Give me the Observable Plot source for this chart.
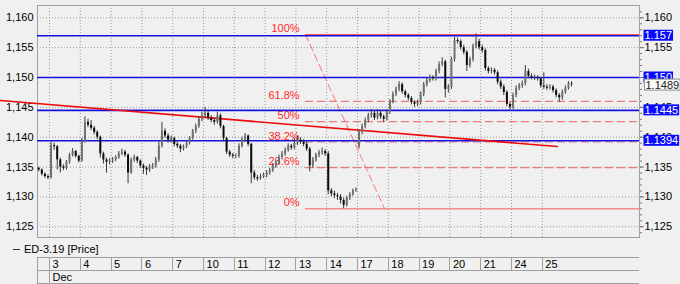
<!DOCTYPE html>
<html><head><meta charset="utf-8">
<script src="https://cdn.jsdelivr.net/npm/d3@7"></script>
<script src="https://cdn.jsdelivr.net/npm/@observablehq/plot@0.6"></script>
<style>
html,body{margin:0;padding:0;background:#f0f0f0;}
</style>
</head><body><div id="chart"></div>
<script>
// ---- data ----
const days = ["3","4","5","6","7","10","11","12","13","14","17","18","19","20","21","24","25"];
const month = "Dec";
const seriesName = "ED-3.19 [Price]";
const yTicks = [1.125, 1.130, 1.135, 1.140, 1.145, 1.150, 1.155, 1.160];

const opens = [
1.1348,1.1345,1.1338,1.1334,
1.1332,1.1386,1.1384,1.1362,1.1350,1.1348,1.1358,1.1370,1.1376,1.1368,
1.1360,1.1392,1.1425,1.1420,1.1415,1.1408,1.1400,1.1372,1.1362,1.1358,
1.1360,1.1362,1.1366,1.1372,1.1375,1.1370,1.1340,1.1362,1.1366,1.1360,
1.1352,1.1348,1.1345,1.1350,1.1352,1.1362,1.1385,1.1410,1.1402,1.1395,
1.1398,1.1388,1.1385,1.1380,1.1384,1.1390,1.1398,1.1410,1.1418,1.1430,
1.1436,1.1440,1.1432,1.1428,1.1425,1.1436,1.1418,1.1398,1.1375,1.1370,
1.1368,1.1368,1.1385,1.1396,1.1402,1.1388,1.1340,1.1332,1.1330,1.1334,
1.1336,1.1340,1.1344,1.1352,1.1358,1.1366,1.1372,1.1378,1.1385,1.1382,
1.1390,1.1395,1.1392,1.1388,1.1380,1.1352,1.1362,1.1370,1.1374,1.1376,
1.1372,1.1310,1.1305,1.1302,1.1300,1.1294,1.1286,1.1298,1.1304,1.1310,
1.1384,1.1408,1.1418,1.1428,1.1436,1.1440,1.1432,1.1440,1.1434,1.1430,
1.1442,1.1460,1.1472,1.1480,1.1488,1.1476,1.1470,1.1465,1.1458,1.1455,
1.1458,1.1472,1.1488,1.1495,1.1500,1.1498,1.1510,1.1522,1.1526,1.1480,
1.1484,1.1530,1.1562,1.1560,1.1550,1.1542,1.1520,1.1530,1.1552,1.1560,
1.1550,1.1545,1.1515,1.1510,1.1512,1.1508,1.1492,1.1484,1.1475,1.1455,
1.1450,1.1470,1.1482,1.1486,1.1490,1.1510,1.1502,1.1500,1.1500,1.1498,
1.1486,1.1484,1.1482,1.1484,1.1478,1.1470,1.1466,1.1475,1.1482,1.1490];
const highs = [
1.1350,1.1347,1.1340,1.1337,
1.1392,1.1390,1.1386,1.1365,1.1354,1.1361,1.1373,1.1381,1.1378,1.1370,
1.1398,1.1434,1.1430,1.1428,1.1418,1.1411,1.1402,1.1375,1.1365,1.1364,
1.1366,1.1369,1.1376,1.1380,1.1378,1.1372,1.1365,1.1370,1.1368,1.1362,
1.1355,1.1351,1.1354,1.1356,1.1366,1.1392,1.1425,1.1414,1.1406,1.1402,
1.1400,1.1392,1.1388,1.1387,1.1393,1.1401,1.1413,1.1422,1.1434,1.1442,
1.1450,1.1444,1.1436,1.1432,1.1442,1.1439,1.1420,1.1400,1.1378,1.1373,
1.1372,1.1389,1.1400,1.1406,1.1404,1.1390,1.1344,1.1336,1.1338,1.1340,
1.1344,1.1348,1.1356,1.1362,1.1370,1.1376,1.1382,1.1389,1.1388,1.1398,
1.1402,1.1399,1.1396,1.1392,1.1383,1.1366,1.1373,1.1378,1.1382,1.1379,
1.1376,1.1314,1.1310,1.1306,1.1304,1.1298,1.1301,1.1307,1.1313,1.1315,
1.1412,1.1422,1.1432,1.1440,1.1446,1.1443,1.1446,1.1443,1.1437,1.1446,
1.1463,1.1476,1.1484,1.1493,1.1491,1.1479,1.1473,1.1468,1.1461,1.1462,
1.1476,1.1492,1.1499,1.1504,1.1503,1.1514,1.1526,1.1533,1.1529,1.1488,
1.1534,1.1567,1.1566,1.1563,1.1554,1.1545,1.1534,1.1556,1.1573,1.1564,
1.1554,1.1548,1.1518,1.1516,1.1515,1.1511,1.1496,1.1488,1.1478,1.1458,
1.1474,1.1486,1.1490,1.1494,1.1520,1.1514,1.1506,1.1504,1.1503,1.1500,
1.1508,1.1488,1.1488,1.1487,1.1481,1.1473,1.1479,1.1486,1.1493,1.1493];
const lows = [
1.1342,1.1335,1.1331,1.1329,
1.1330,1.1378,1.1345,1.1340,1.1344,1.1345,1.1355,1.1367,1.1365,1.1357,
1.1358,1.1390,1.1416,1.1411,1.1404,1.1396,1.1365,1.1355,1.1340,1.1354,
1.1356,1.1359,1.1363,1.1369,1.1366,1.1322,1.1338,1.1358,1.1356,1.1348,
1.1338,1.1336,1.1341,1.1346,1.1348,1.1358,1.1382,1.1398,1.1390,1.1390,
1.1384,1.1381,1.1374,1.1377,1.1381,1.1387,1.1395,1.1406,1.1415,1.1426,
1.1432,1.1428,1.1424,1.1420,1.1422,1.1414,1.1392,1.1371,1.1366,1.1364,
1.1364,1.1365,1.1382,1.1392,1.1384,1.1322,1.1328,1.1326,1.1328,1.1331,
1.1332,1.1336,1.1341,1.1348,1.1354,1.1362,1.1368,1.1375,1.1378,1.1379,
1.1386,1.1388,1.1384,1.1376,1.1342,1.1348,1.1358,1.1366,1.1370,1.1368,
1.1304,1.1300,1.1297,1.1294,1.1288,1.1280,1.1283,1.1294,1.1301,1.1308,
1.1380,1.1404,1.1414,1.1424,1.1432,1.1428,1.1429,1.1430,1.1425,1.1427,
1.1438,1.1456,1.1468,1.1476,1.1472,1.1466,1.1461,1.1454,1.1450,1.1451,
1.1454,1.1468,1.1484,1.1491,1.1494,1.1494,1.1506,1.1518,1.1466,1.1474,
1.1480,1.1526,1.1556,1.1546,1.1538,1.1510,1.1516,1.1526,1.1548,1.1546,
1.1541,1.1511,1.1506,1.1506,1.1504,1.1488,1.1480,1.1470,1.1451,1.1444,
1.1446,1.1466,1.1478,1.1482,1.1486,1.1498,1.1496,1.1495,1.1494,1.1482,
1.1480,1.1478,1.1479,1.1474,1.1466,1.1458,1.1462,1.1472,1.1479,1.1484];
const closes = [
1.1345,1.1338,1.1334,1.1332,
1.1386,1.1384,1.1362,1.1350,1.1348,1.1358,1.1370,1.1376,1.1368,1.1360,
1.1392,1.1425,1.1420,1.1415,1.1408,1.1400,1.1372,1.1362,1.1358,1.1360,
1.1362,1.1366,1.1372,1.1375,1.1370,1.1340,1.1362,1.1366,1.1360,1.1352,
1.1348,1.1345,1.1350,1.1352,1.1362,1.1385,1.1410,1.1402,1.1395,1.1398,
1.1388,1.1385,1.1380,1.1384,1.1390,1.1398,1.1410,1.1418,1.1430,1.1436,
1.1440,1.1432,1.1428,1.1425,1.1436,1.1418,1.1398,1.1375,1.1370,1.1368,
1.1368,1.1385,1.1396,1.1402,1.1388,1.1340,1.1332,1.1330,1.1334,1.1336,
1.1340,1.1344,1.1352,1.1358,1.1366,1.1372,1.1378,1.1385,1.1382,1.1390,
1.1395,1.1392,1.1388,1.1380,1.1352,1.1362,1.1370,1.1374,1.1376,1.1372,
1.1310,1.1305,1.1302,1.1300,1.1294,1.1286,1.1298,1.1304,1.1310,1.1312,
1.1408,1.1418,1.1428,1.1436,1.1440,1.1432,1.1440,1.1434,1.1430,1.1442,
1.1460,1.1472,1.1480,1.1488,1.1476,1.1470,1.1465,1.1458,1.1455,1.1458,
1.1472,1.1488,1.1495,1.1500,1.1498,1.1510,1.1522,1.1526,1.1480,1.1484,
1.1530,1.1562,1.1560,1.1550,1.1542,1.1520,1.1530,1.1552,1.1560,1.1550,
1.1545,1.1515,1.1510,1.1512,1.1508,1.1492,1.1484,1.1475,1.1455,1.1450,
1.1470,1.1482,1.1486,1.1490,1.1510,1.1502,1.1500,1.1500,1.1498,1.1486,
1.1484,1.1482,1.1484,1.1478,1.1470,1.1466,1.1475,1.1482,1.1490,1.1489];

// horizontal support / resistance lines with their price boxes
const levelPrices = [1.157, 1.150, 1.1445, 1.1394];
const levelLabels = ["1.157", "1.150", "1.1445", "1.1394"];
const lastPrice = 1.1489;
const lastLabel = "1.1489";

// Fibonacci retracement
const fibLabels = ["0%", "23.6%", "38.2%", "50%", "61.8%", "100%"];
const fibPrices = [1.1280, 1.1349, 1.1392, 1.1426, 1.1460, 1.1572];
const fibAnchorDays = [8.31, 10.88];       // time (trading days from Dec 3) of the swing anchors
const fibAnchorPrices = [1.1572, 1.1280];

// trend line
const trendDays = [-1.59, 16.49];
const trendPrices = [1.14615, 1.13844];

// ---- build ----
const bars = closes.map((c, j) => ({d: (j - 3.5) / 10, o: opens[j], h: highs[j], l: lows[j], c}));
const fib = fibLabels.map((label, i) => ({label, p: fibPrices[i]}));
const fibDiag = fibAnchorDays.map((d, i) => ({d, p: fibAnchorPrices[i]}));
const trend = trendDays.map((d, i) => ({d, p: trendPrices[i]}));
const levels = levelPrices.map((p, i) => ({p, label: levelLabels[i]}));
const xMin = -0.39, xMax = 19.156;
const fmt = v => v.toFixed(3).replace(".", ",");
const dayTicks = days.map((_, i) => i);
const minorTicks = d3.range(1124, 1162).map(v => v / 1000);
const font = "'Liberation Sans', Arial, sans-serif";

const plot = Plot.plot({
  width: 680, height: 284,
  marginLeft: 37, marginRight: 41, marginTop: 5, marginBottom: 47,
  style: {background: "#f0f0f0", fontFamily: font, fontSize: "11px", color: "#000"},
  x: {domain: [xMin, xMax], axis: null, label: null},
  y: {domain: [1.1232, 1.16206], axis: null, label: null},
  marks: [
    Plot.gridY(yTicks, {stroke: "#9a9a9a", strokeOpacity: 1, strokeDasharray: "1,2"}),
    Plot.gridX(dayTicks, {stroke: "#9a9a9a", strokeOpacity: 1, strokeDasharray: "1,2"}),
    Plot.frame({stroke: "#a0a0a0"}),
    Plot.axisY(yTicks, {anchor: "left", label: null, tickSize: 0, tickPadding: 4, tickFormat: fmt, fontSize: 11, fill: "#000"}),
    Plot.axisY(minorTicks, {anchor: "right", label: null, tickSize: 2, tickFormat: () => "", stroke: "#777"}),
    Plot.axisY(yTicks, {anchor: "right", label: null, tickSize: 4, tickPadding: 1, tickFormat: fmt, fontSize: 11, fill: "#000", stroke: "#777"}),
    Plot.axisX(dayTicks, {anchor: "bottom", label: null, tickSize: 0, tickPadding: 23, tickFormat: i => days[i], textAnchor: "start", dx: 3, fontSize: 11, fill: "#000"}),
    Plot.axisX([0], {anchor: "bottom", label: null, tickSize: 0, tickPadding: 36, tickFormat: () => month, textAnchor: "start", dx: 3, fontSize: 11, fill: "#000"}),
    // fib levels
    Plot.ruleY(fib, {filter: d => d.label !== "0%" && d.label !== "100%", y: "p", x1: fibAnchorDays[0], x2: xMax, stroke: "#f07878", strokeWidth: 1.2, strokeDasharray: "8,4"}),
    Plot.ruleY(fib, {filter: d => d.label === "0%" || d.label === "100%", y: "p", x1: fibAnchorDays[0], x2: xMax, stroke: "#ff5a5a", strokeWidth: 1}),
    Plot.text(fib, {x: 8.12, y: "p", text: "label", textAnchor: "end", dy: -6, fill: "#ff2a2a", fontSize: 11}),
    Plot.line(fibDiag, {x: "d", y: "p", stroke: "#ff7070", strokeWidth: 1, strokeDasharray: "7,4"}),
    // horizontal levels
    Plot.ruleY(levels, {y: "p", stroke: "#1212e0", strokeWidth: 1.6}),
    // trend line
    Plot.line(trend, {x: "d", y: "p", stroke: "#ee0a0a", strokeWidth: 1.6}),
    // candles
    Plot.ruleX(bars, {x: "d", y1: "l", y2: "h", stroke: "#3a3a3a", strokeWidth: 1}),
    Plot.ruleX(bars, {x: "d", y1: "o", y2: "c", stroke: d => d.c >= d.o ? "#707070" : "#0a0a0a", strokeWidth: 2}),
    // price boxes
    Plot.text(levels, {x: xMax, y: "p", text: "label", dx: 5, textAnchor: "start", fill: "#fff", fontSize: 11}),
    Plot.text([lastPrice], {x: xMax, y: d => d, text: () => lastLabel, dx: 6, dy: 1, textAnchor: "start", fill: "#222", fontSize: 11})
  ]
});

document.getElementById("chart").appendChild(plot);
const svg = d3.select(plot);
const xs = plot.scale("x");

function boxes(labels, fill, stroke) {
  const nodes = [];
  svg.selectAll("text").each(function() {
    if (labels.includes(this.textContent.trim()) && this.getBoundingClientRect().left > 635) nodes.push(this);
  });
  nodes.forEach(t => {
    const b = t.getBBox();
    const cy = b.y + b.height / 2;
    const r = document.createElementNS("http://www.w3.org/2000/svg", "rect");
    r.setAttribute("x", b.x - 1);
    r.setAttribute("y", cy - 5.5);
    r.setAttribute("width", b.width + 2);
    r.setAttribute("height", 11);
    r.setAttribute("fill", fill);
    r.setAttribute("stroke", stroke || "none");
    const tr = t.getAttribute("transform");
    if (tr) r.setAttribute("transform", tr);
    t.parentNode.insertBefore(r, t);
  });
}
boxes(levelLabels, "#0a0aff");
boxes([lastLabel], "#fafafa", "#909090");

// legend + date table below the plot
const g = svg.append("g").attr("stroke", "#a0a0a0").attr("shape-rendering", "crispEdges");
const left = 37, right = 639, r0 = 257, r1 = 270, r2 = 283;
[r0, r1, r2].forEach(y => g.append("line").attr("x1", left).attr("x2", right).attr("y1", y + 0.5).attr("y2", y + 0.5));
[left, xs.apply(0)].forEach(x => g.append("line").attr("x1", Math.round(x) + 0.5).attr("x2", Math.round(x) + 0.5).attr("y1", r0).attr("y2", r2));
dayTicks.slice(1).forEach(i => {
  const x = Math.round(xs.apply(i)) + 0.5;
  g.append("line").attr("x1", x).attr("x2", x).attr("y1", r0).attr("y2", r1);
});
svg.append("line").attr("x1", 13).attr("x2", 20).attr("y1", 249.5).attr("y2", 249.5).attr("stroke", "#333");
svg.append("text").attr("x", 24).attr("y", 253).attr("text-anchor", "start")
  .attr("font-size", 11).attr("fill", "#000").text(seriesName);
</script>
</body></html>
